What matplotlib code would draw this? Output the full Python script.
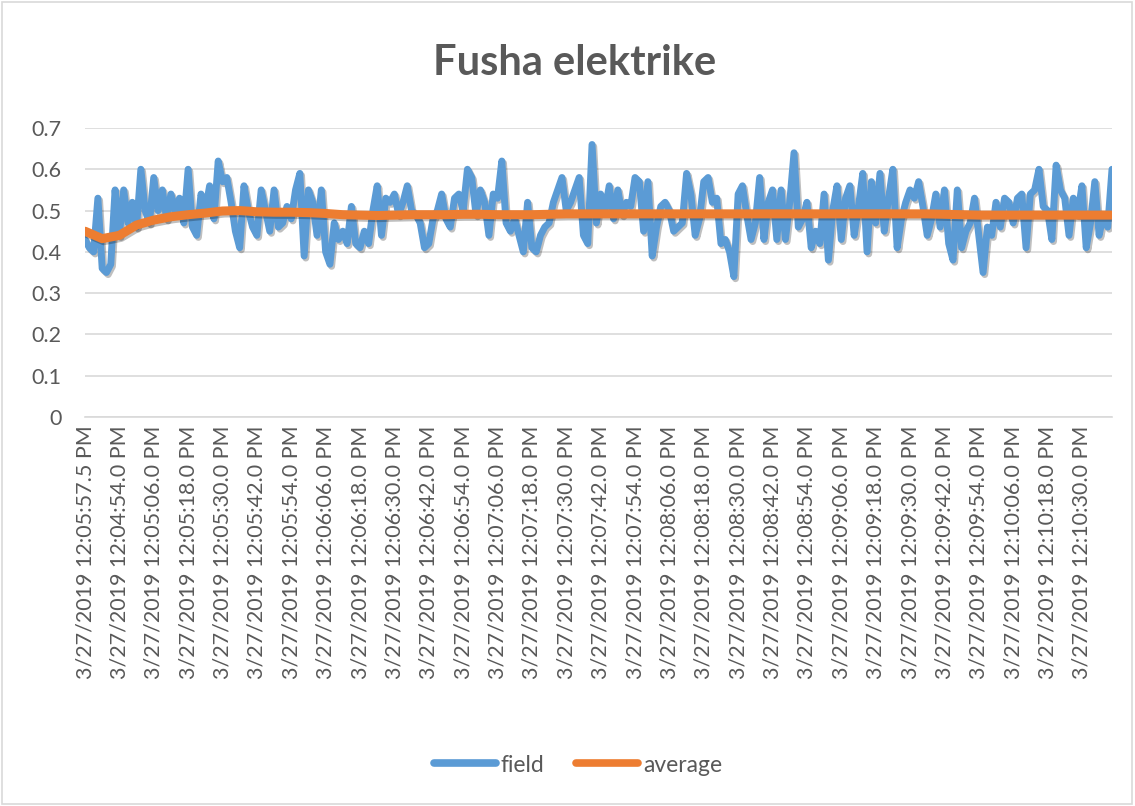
import matplotlib
matplotlib.use("Agg")
import matplotlib.pyplot as plt
import matplotlib.patheffects as pe
from matplotlib.patches import Rectangle

plt.rcParams['font.family'] = ['Lato', 'DejaVu Sans']

title = "Fusha elektrike"

tick_labels = [
    "3/27/2019 12:05:57.5 PM", "3/27/2019 12:04:54.0 PM", "3/27/2019 12:05:06.0 PM",
    "3/27/2019 12:05:18.0 PM", "3/27/2019 12:05:30.0 PM", "3/27/2019 12:05:42.0 PM",
    "3/27/2019 12:05:54.0 PM", "3/27/2019 12:06:06.0 PM", "3/27/2019 12:06:18.0 PM",
    "3/27/2019 12:06:30.0 PM", "3/27/2019 12:06:42.0 PM", "3/27/2019 12:06:54.0 PM",
    "3/27/2019 12:07:06.0 PM", "3/27/2019 12:07:18.0 PM", "3/27/2019 12:07:30.0 PM",
    "3/27/2019 12:07:42.0 PM", "3/27/2019 12:07:54.0 PM", "3/27/2019 12:08:06.0 PM",
    "3/27/2019 12:08:18.0 PM", "3/27/2019 12:08:30.0 PM", "3/27/2019 12:08:42.0 PM",
    "3/27/2019 12:08:54.0 PM", "3/27/2019 12:09:06.0 PM", "3/27/2019 12:09:18.0 PM",
    "3/27/2019 12:09:30.0 PM", "3/27/2019 12:09:42.0 PM", "3/27/2019 12:09:54.0 PM",
    "3/27/2019 12:10:06.0 PM", "3/27/2019 12:10:18.0 PM", "3/27/2019 12:10:30.0 PM",
]

# field values (8 samples per labelled interval)
field = [
    0.43, 0.41, 0.40, 0.53, 0.36, 0.35, 0.37, 0.55,
    0.44, 0.55, 0.47, 0.52, 0.46, 0.60, 0.50, 0.47,
    0.58, 0.50, 0.55, 0.48, 0.54, 0.50, 0.53, 0.47,
    0.60, 0.46, 0.44, 0.54, 0.50, 0.56, 0.48, 0.62,
    0.57, 0.58, 0.52, 0.45, 0.41, 0.56, 0.50, 0.46,
    0.44, 0.55, 0.50, 0.45, 0.55, 0.46, 0.47, 0.51,
    0.48, 0.55, 0.59, 0.39, 0.55, 0.52, 0.44, 0.55,
    0.40, 0.37, 0.47, 0.43, 0.45, 0.42, 0.51, 0.42,
    0.41, 0.45, 0.42, 0.50, 0.56, 0.44, 0.53, 0.52,
    0.54, 0.49, 0.52, 0.56, 0.50, 0.49, 0.47, 0.41,
    0.42, 0.48, 0.50, 0.54, 0.48, 0.46, 0.53, 0.54,
    0.50, 0.60, 0.58, 0.49, 0.55, 0.52, 0.44, 0.54,
    0.53, 0.62, 0.47, 0.45, 0.48, 0.44, 0.40, 0.52,
    0.41, 0.40, 0.44, 0.46, 0.47, 0.52, 0.55, 0.58,
    0.50, 0.52, 0.55, 0.58, 0.44, 0.42, 0.66, 0.47,
    0.54, 0.50, 0.56, 0.48, 0.55, 0.49, 0.52, 0.51,
    0.58, 0.57, 0.45, 0.57, 0.39, 0.46, 0.51, 0.52,
    0.50, 0.45, 0.46, 0.47, 0.59, 0.54, 0.44, 0.48,
    0.57, 0.58, 0.52, 0.53, 0.42, 0.43, 0.40, 0.34,
    0.54, 0.56, 0.49, 0.43, 0.47, 0.58, 0.43, 0.52,
    0.55, 0.43, 0.55, 0.43, 0.52, 0.64, 0.46, 0.48,
    0.52, 0.41, 0.45, 0.42, 0.54, 0.38, 0.50, 0.56,
    0.43, 0.53, 0.56, 0.44, 0.51, 0.59, 0.40, 0.57,
    0.47, 0.59, 0.45, 0.53, 0.60, 0.41, 0.48, 0.52,
    0.55, 0.53, 0.57, 0.51, 0.44, 0.48, 0.54, 0.46,
    0.55, 0.42, 0.38, 0.55, 0.41, 0.45, 0.47, 0.53,
    0.44, 0.35, 0.46, 0.44, 0.52, 0.46, 0.53, 0.52,
    0.47, 0.53, 0.54, 0.41, 0.54, 0.55, 0.60, 0.51,
    0.50, 0.43, 0.61, 0.55, 0.53, 0.44, 0.53, 0.49,
    0.56, 0.41, 0.47, 0.57, 0.44, 0.49, 0.46, 0.60,
]

# running average, read every 4th sample
average = [
    0.450, 0.432, 0.440, 0.465, 0.477, 0.485, 0.490, 0.494, 0.499, 0.500,
    0.497, 0.496, 0.496, 0.495, 0.493, 0.490, 0.489, 0.488, 0.489, 0.490,
    0.490, 0.490, 0.491, 0.491, 0.490, 0.490, 0.490, 0.491, 0.492, 0.492,
    0.492, 0.492, 0.492, 0.492, 0.492, 0.492, 0.492, 0.492, 0.492, 0.492,
    0.492, 0.492, 0.492, 0.492, 0.492, 0.492, 0.492, 0.492, 0.492, 0.492,
    0.491, 0.490, 0.489, 0.489, 0.489, 0.489, 0.489, 0.489, 0.489, 0.489,
    0.489,
]

n = len(field)
x_field = list(range(n))
x_avg = list(range(0, n, 4)) + [n - 1]

fig = plt.figure(figsize=(11.35, 8.06), dpi=100)
fig.patches.append(Rectangle((0.002, 0.003), 0.995, 0.994, transform=fig.transFigure,
                             fill=False, edgecolor='#D9D9D9', linewidth=1.2))

ax = fig.add_axes([85/1135, 1-417/806, (1112-85)/1135, (417-128)/806])

text_col = '#595959'
shadow = [pe.SimpleLineShadow(offset=(1.2, -1.5), shadow_color='black', alpha=0.25), pe.Normal()]

ax.plot(x_field, field, color='#5B9BD5', lw=5.0, solid_joinstyle='round',
        solid_capstyle='round', label='field', path_effects=shadow, zorder=3)
ax.plot(x_avg, average, color='#ED7D31', lw=6.5, solid_joinstyle='round',
        solid_capstyle='round', label='average', path_effects=shadow, zorder=4)

ax.set_xlim(0, n - 1)
ax.set_ylim(0, 0.7)
ax.set_yticks([0, 0.1, 0.2, 0.3, 0.4, 0.5, 0.6, 0.7])
ax.set_yticklabels(['0', '0.1', '0.2', '0.3', '0.4', '0.5', '0.6', '0.7'])
ax.set_xticks(list(range(0, n, 8)))
ax.set_xticklabels(tick_labels, rotation=90)
ax.tick_params(axis='both', length=0, labelsize=15.5, labelcolor=text_col)
ax.tick_params(axis='y', pad=17)
ax.tick_params(axis='x', pad=6)
ax.grid(axis='y', color='#D9D9D9', lw=1.2)
ax.set_axisbelow(True)
for s in ['left', 'right', 'top']:
    ax.spines[s].set_visible(False)
ax.spines['bottom'].set_color('#D9D9D9')
ax.spines['bottom'].set_linewidth(1.2)

fig.text(575/1135, 1-63/806, title, ha='center', va='center', fontsize=30,
         fontweight='bold', color=text_col)

leg = fig.legend(loc='center', bbox_to_anchor=(578/1135, 1-765/806), ncol=2,
                 frameon=False, fontsize=16.5, handlelength=2.7, handletextpad=0.2,
                 columnspacing=1.4)
for t in leg.get_texts():
    t.set_color(text_col)
for h in leg.legend_handles:
    h.set_path_effects([])
    h.set_linewidth(5.5)

fig.savefig('out.png', dpi=100)
